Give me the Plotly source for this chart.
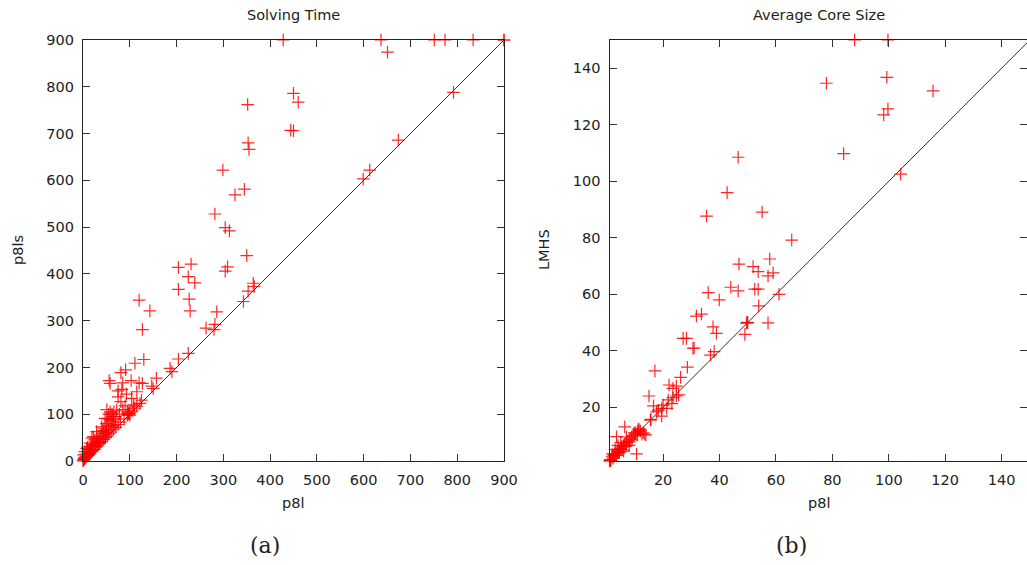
import plotly.graph_objects as go

# ---------------- data: (a) Solving Time ----------------
a_p8l = [428, 637, 751, 774, 834, 900, 900, 651, 450, 460, 352, 444, 450, 353, 355, 299, 345, 325, 282,
         304, 313, 350, 204, 231, 309, 304, 225, 599, 613, 674, 792,
         204, 239, 227, 229, 120, 143, 127, 286, 263, 280, 282, 343, 353, 366, 364,
         130, 111, 225, 204, 186, 190, 157, 147, 150,
         56, 58, 81, 91, 103, 127, 120, 85, 75, 83, 75, 93, 115, 104, 81, 90, 108, 122, 125, 58, 51, 72,
         97, 100, 63, 47, 40, 58, 68, 29, 22, 43, 54, 36, 15, 8, 26, 1, 4, 29, 19, 11, 22, 0,
         2, 5, 8, 10, 12, 15, 18, 20, 24, 27, 30, 33, 36, 40, 44, 48, 52, 55, 60, 65, 70, 75, 80, 88,
         95, 98, 100, 105, 110, 115, 1, 3, 6, 13, 17, 25, 35, 45, 50, 62, 78, 85, 95,
         10, 14, 20, 25, 30, 32, 38, 42, 45, 50, 52, 55, 60, 62, 65, 48, 35, 18, 6, 3, 70, 66, 55]
a_p8ls = [900, 900, 900, 900, 900, 900, 900, 874, 786, 767, 762, 707, 706, 680, 666, 622, 581, 569, 528,
          499, 492, 439, 414, 421, 415, 406, 394, 603, 622, 686, 788,
          367, 381, 346, 321, 344, 321, 281, 319, 284, 281, 292, 341, 363, 373, 380,
          217, 209, 230, 218, 198, 191, 177, 160, 155,
          172, 166, 189, 195, 172, 166, 167, 167, 150, 153, 137, 143, 148, 134, 127, 118, 120, 123, 130, 105, 110, 109,
          102, 98, 95, 91, 73, 88, 77, 63, 52, 59, 66, 45, 38, 27, 31, 13, 20, 41, 49, 20, 24, 0,
          3, 6, 10, 12, 14, 16, 20, 22, 25, 30, 32, 36, 38, 42, 46, 50, 53, 58, 62, 68, 72, 78, 83, 90,
          98, 100, 103, 107, 113, 117, 2, 5, 9, 17, 24, 34, 40, 55, 60, 75, 100, 110, 105,
          30, 25, 35, 45, 50, 40, 55, 65, 70, 80, 90, 75, 85, 100, 90, 62, 48, 30, 15, 8, 95, 105, 100]
a_diag = [0, 900]
a_ticks = [0, 100, 200, 300, 400, 500, 600, 700, 800, 900]

# ---------------- data: (b) Average Core Size ----------------
b_p8l = [87.9, 99.7, 99.3, 77.9, 115.7, 99.7, 98.2, 84, 104.2, 46.6, 42.7, 35.4, 55.1, 65.6, 46.9, 51.9,
         57.8, 53.7, 57.2, 59,
         36, 39.9, 44, 46.6, 52.5, 53.7, 53.9, 61.1, 49.8, 50, 49.6, 57.2, 49, 31.8, 33.6, 37.7, 38.9,
         36.8, 38.1, 27.1, 28.3, 30.6, 31, 28.6, 26.2, 17.1, 22.1, 23.5, 24.7, 25.5, 24.7, 23.5, 21.8,
         20, 19.5, 17.7, 18.3, 16.6, 15, 15.7, 15.5, 19.5, 21.3, 23.1, 6.4, 3.5, 10.6, 13.9,
         1, 1.2, 1.5, 2, 2.3, 2.8, 3, 3.5, 3.8, 4, 4.5, 5, 5.2, 5.5, 6, 6.3, 6.8, 7, 7.5, 8, 8.3, 8.8,
         9, 9.5, 10, 10.3, 10.8, 11, 11.5, 12, 12.5, 13, 13.5, 7, 5, 4, 3, 2, 6, 8, 1.3, 2.5, 4.2, 9.8, 11.2]
b_lmhs = [150, 150, 136.8, 134.7, 132, 125.6, 123.5, 109.8, 102.5, 108.5, 96, 87.7, 89.1, 79.2, 70.7, 69.8,
          72.5, 68, 66.5, 67.6,
          60.6, 58, 62.5, 61.2, 61.8, 61.8, 55.9, 60, 50.1, 50, 49.8, 49.9, 45.8, 52.3, 53, 48.5, 46.2,
          38.5, 39.7, 44.4, 44.4, 40.9, 41, 34.2, 30.6, 32.9, 27.9, 26.7, 27.5, 24.4, 24, 23.4, 22.6,
          20.8, 19.6, 18.4, 19, 20.5, 24, 15.7, 15.5, 16.9, 19.6, 21.3, 13.1, 9.6, 3.5, 10.2,
          1, 1.5, 1.3, 2.5, 2, 3.2, 3.5, 3, 4.2, 4.5, 4, 5.5, 6, 5, 6.5, 7, 6.2, 7.5, 8, 7.8, 8.8, 9.5,
          8.5, 10, 10.5, 11, 10.2, 11.5, 12, 11.6, 10.5, 11, 10.5, 9.5, 7.5, 6.5, 5, 3.5, 4.5, 6.5, 1.1, 2.8, 3.9, 11, 12.3]
b_diag = [1, 150]
b_ticks = [20, 40, 60, 80, 100, 120, 140]

W, H = 1027, 565
FONT = "DejaVu Sans"
FS = 14.5
marker = dict(symbol="cross-thin", size=9, line=dict(color="rgba(255,0,0,0.85)", width=1.2),
              color="rgba(255,0,0,0.85)")

fig = go.Figure()
fig.add_trace(go.Scatter(x=a_diag, y=a_diag, mode="lines", line=dict(color="#333", width=1),
                         xaxis="x", yaxis="y", showlegend=False))
fig.add_trace(go.Scatter(x=a_p8l, y=a_p8ls, mode="markers", marker=marker, cliponaxis=False,
                         xaxis="x", yaxis="y", showlegend=False))
fig.add_trace(go.Scatter(x=b_diag, y=b_diag, mode="lines", line=dict(color="#333", width=1),
                         xaxis="x2", yaxis="y2", showlegend=False))
fig.add_trace(go.Scatter(x=b_p8l, y=b_lmhs, mode="markers", marker=marker, cliponaxis=False,
                         xaxis="x2", yaxis="y2", showlegend=False))

ax_common = dict(showgrid=False, zeroline=False, showline=True, linecolor="#222", linewidth=1.2,
                 mirror="ticks", ticks="inside", ticklen=7, tickcolor="#333", tickwidth=1.2,
                 tickfont=dict(family=FONT, size=FS, color="#222"), ticklabelstandoff=5,
                 automargin=False)

yd = [(H - 461) / H, (H - 40) / H]
fig.update_layout(
    width=W, height=H, margin=dict(l=0, r=0, t=0, b=0, pad=0, autoexpand=False),
    paper_bgcolor="white", plot_bgcolor="white",
    xaxis=dict(domain=[83 / W, 504 / W], range=[0, 900], tickvals=a_ticks, anchor="y", **ax_common),
    yaxis=dict(domain=yd, range=[0, 900], tickvals=a_ticks, anchor="x", **ax_common),
    xaxis2=dict(domain=[609.5 / W, 1.0], range=[1, 149], tickvals=b_ticks, anchor="y2", **ax_common),
    yaxis2=dict(domain=yd, range=[1, 150], tickvals=b_ticks, anchor="x2", **ax_common),
)

def ann(text, x, y, size=FS, family=FONT, angle=0):
    fig.add_annotation(text=text, x=x / W, y=1 - y / H, xref="paper", yref="paper",
                       showarrow=False, xanchor="center", yanchor="middle", textangle=angle,
                       font=dict(family=family, size=size, color="#222"))

ann("Solving Time", 293, 15)
ann("Average Core Size", 819, 15)
ann("p8l", 293, 503)
ann("p8l", 819, 503)
ann("p8ls", 18, 250, angle=-90)
ann("LMHS", 544, 250, angle=-90)
ann("(a)", 265, 545, size=22, family="DejaVu Serif")
ann("(b)", 791, 545, size=22, family="DejaVu Serif")

fig.write_html("out.html")
